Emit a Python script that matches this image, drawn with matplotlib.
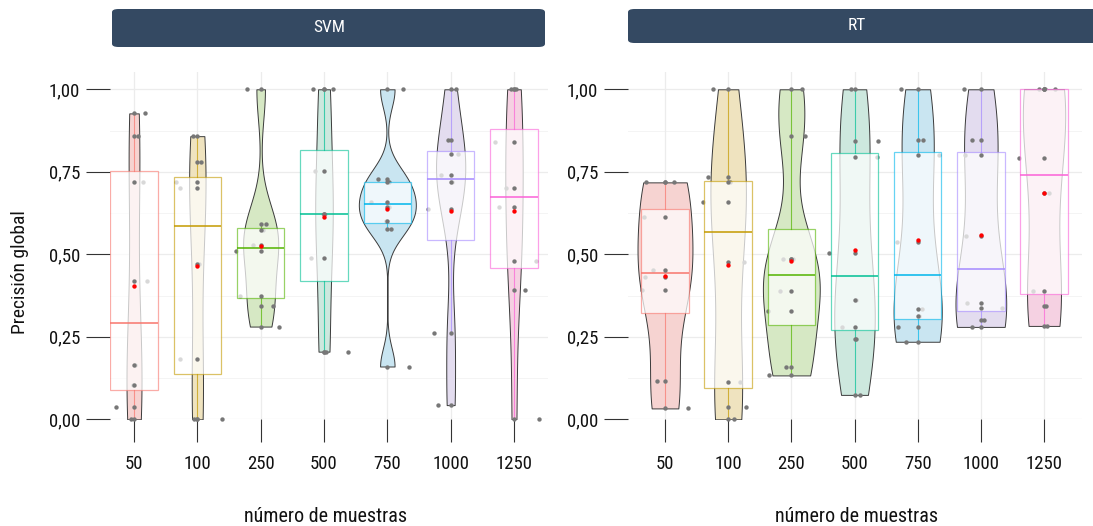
import numpy as np
import matplotlib
matplotlib.use("Agg")
import matplotlib.pyplot as plt
from matplotlib import cbook, mlab, font_manager
from matplotlib.patches import FancyBboxPatch

# ---------------- data ----------------
categories = ["50", "100", "250", "500", "750", "1000", "1250"]
panels = ["SVM", "RT"]

svm_values = [
    [0.927, 0.858, 0.719, 0.42, 0.164, 0.104, 0.038, 0.0],
    [0.858, 0.779, 0.719, 0.702, 0.471, 0.183, 0.0, 0.0],
    [1.0, 0.591, 0.574, 0.528, 0.511, 0.374, 0.343, 0.281],
    [1.0, 1.0, 0.753, 0.621, 0.621, 0.49, 0.205, 0.205],
    [1.0, 0.728, 0.718, 0.658, 0.644, 0.601, 0.578, 0.16],
    [1.0, 0.846, 0.803, 0.74, 0.719, 0.636, 0.263, 0.043],
    [1.0, 1.0, 0.839, 0.702, 0.644, 0.48, 0.391, 0.0],
]
svm_jitter = [
    [0.17, 0.06, 0.14, 0.2, 0.02, -0.02, -0.29, -0.04],
    [-0.07, 0.05, -0.33, -0.28, 0.02, -0.28, -0.06, 0.39],
    [-0.22, 0.09, 0.03, -0.12, -0.39, -0.33, 0.19, 0.29],
    [-0.18, 0.15, -0.14, 0.01, -0.02, -0.2, 0.03, 0.38],
    [0.24, -0.15, 0.02, -0.25, 0.03, -0.02, 0.06, 0.35],
    [0.09, -0.04, 0.12, -0.16, 0.02, -0.36, -0.26, -0.2],
    [-0.05, 0.03, -0.3, -0.12, -0.24, 0.34, 0.17, 0.39],
]
rt_values = [
    [0.718, 0.718, 0.612, 0.452, 0.432, 0.392, 0.116, 0.033],
    [1.0, 0.735, 0.718, 0.66, 0.478, 0.114, 0.038, 0.0],
    [1.0, 0.857, 0.485, 0.485, 0.39, 0.327, 0.16, 0.133],
    [1.0, 0.843, 0.796, 0.505, 0.362, 0.281, 0.242, 0.074],
    [1.0, 0.845, 0.80, 0.538, 0.335, 0.313, 0.28, 0.235],
    [1.0, 0.845, 0.80, 0.556, 0.352, 0.336, 0.301, 0.28],
    [1.0, 1.0, 1.0, 0.793, 0.685, 0.39, 0.343, 0.283],
]
rt_jitter = [
    [-0.3, 0.15, -0.33, -0.19, -0.32, -0.36, -0.12, 0.37],
    [-0.24, -0.32, 0.03, -0.4, 0.25, 0.19, 0.29, 0.1],
    [0.17, 0.22, -0.13, 0.02, -0.18, -0.37, -0.08, -0.35],
    [-0.05, 0.37, 0.35, -0.41, 0.02, -0.2, 0.03, 0.09],
    [-0.26, 0.08, 0.33, -0.33, 0.07, 0.02, -0.31, -0.18],
    [-0.26, -0.14, -0.25, -0.23, -0.22, 0.34, 0.05, -0.14],
    [-0.08, 0.17, 0.02, -0.4, 0.08, -0.17, 0.03, 0.05],
]
y_ticks = [0.0, 0.25, 0.5, 0.75, 1.0]
y_ticklabels = ["0,00", "0,25", "0,50", "0,75", "1,00"]

# ---------------- style ----------------
palette = ["#F8766D", "#C49A00", "#53B400", "#00C094", "#00B6EB", "#A58AFF", "#FB61D7"]
violin_fill = ["#F6D3D1", "#EFE3BF", "#D6E8C4", "#CDE8DE", "#C9E5F1", "#E3DCEF", "#F5D1E2"]
strip_color = "#344962"
point_gray = "#777777"
W, H = 1093, 526

names = {f.name for f in font_manager.fontManager.ttflist}
font = "Roboto"
for cand in ["Roboto Condensed", "Liberation Sans Narrow", "Roboto"]:
    if cand in names:
        font = cand
        break
plt.rcParams["font.family"] = [font, "DejaVu Sans"]
plt.rcParams["axes.unicode_minus"] = False


def nrd0(kde):
    d = np.asarray(kde.dataset).ravel()
    sd = np.std(d, ddof=1)
    q75, q25 = np.percentile(d, [75, 25])
    lo = min(sd, (q75 - q25) / 1.34)
    if lo <= 0:
        lo = sd if sd > 0 else 0.05
    bw = 0.9 * lo * len(d) ** (-0.2)
    return bw / sd


def kde_method(X, coords):
    kde = mlab.GaussianKDE(X, bw_method=nrd0)
    return kde.evaluate(coords)


fig = plt.figure(figsize=(W / 100, H / 100), dpi=100)
fig.patch.set_facecolor("white")

y_top_px, y_bot_px = 72, 419.3
ax_h = (y_bot_px - y_top_px) / H
ax_b = 1 - y_bot_px / H
axL = fig.add_axes([110 / W, ax_b, 438 / W, ax_h])
axR = fig.add_axes([628 / W, ax_b, 454 / W, ax_h])
xlims = [(1 - 24 / 63.3, 7 + 34 / 63.3), (1 - 37 / 63.2, 7 + 38 / 63.2)]

positions = np.arange(1, len(categories) + 1)

for k, (ax, vals, jit) in enumerate([(axL, svm_values, svm_jitter), (axR, rt_values, rt_jitter)]):
    ax.set_facecolor("white")
    ax.set_xlim(*xlims[k])
    ax.set_ylim(0, (y_bot_px - y_top_px) / 330)
    for s in ax.spines.values():
        s.set_visible(False)
    # grid
    for yv in np.arange(0.125, 1.05, 0.25):
        ax.axhline(yv, color="#f4f4f4", lw=0.7, zorder=0)
    for yv in y_ticks:
        ax.axhline(yv, color="#ececec", lw=0.9, zorder=0)
    for xv in positions:
        ax.axvline(xv, color="#ececec", lw=0.9, zorder=0)

    # violins (area scaled per panel)
    vpstats = cbook.violin_stats([np.array(v) for v in vals], kde_method, points=120)
    maxd = np.array([s["vals"].max() for s in vpstats])
    widths = 0.9 * maxd / maxd.max()
    parts = ax.violin(vpstats, positions=positions, widths=widths,
                      showmeans=False, showextrema=False, showmedians=False)
    for i, body in enumerate(parts["bodies"]):
        body.set_alpha(None)
        body.set_facecolor(violin_fill[i])
        body.set_edgecolor("#3a3a3a")
        body.set_linewidth(0.7)
        body.set_zorder(1)

    # jittered copies (below the box)
    for i, (v, j) in enumerate(zip(vals, jit)):
        ax.scatter(positions[i] + np.array(j), v, s=10, color=point_gray,
                   linewidths=0, zorder=2, clip_on=False)

    # boxplots
    bp = ax.boxplot(vals, positions=positions, widths=0.75, whis=1.5,
                    patch_artist=True, showfliers=False, showcaps=False,
                    manage_ticks=False)
    for i in range(len(vals)):
        c = palette[i]
        bp["boxes"][i].set_facecolor((1, 1, 1, 0.72))
        bp["boxes"][i].set_edgecolor(matplotlib.colors.to_rgba(c, 0.6))
        bp["boxes"][i].set_linewidth(0.9)
        bp["boxes"][i].set_zorder(3)
        bp["medians"][i].set_color(matplotlib.colors.to_rgba(c, 0.85))
        bp["medians"][i].set_linewidth(1.3)
        bp["medians"][i].set_zorder(3.5)
        for w in bp["whiskers"][2 * i:2 * i + 2]:
            w.set_color(matplotlib.colors.to_rgba(c, 0.7))
            w.set_linewidth(0.8)
            w.set_zorder(3)

    # raw points and means
    for i, v in enumerate(vals):
        ax.scatter(np.full(len(v), positions[i]), v, s=10, color=point_gray,
                   linewidths=0, zorder=4, clip_on=False)
        ax.scatter([positions[i]], [np.mean(v)], s=10, color="red",
                   linewidths=0, zorder=5, clip_on=False)

    ax.set_xticks(positions)
    ax.set_xticklabels(categories)
    ax.set_yticks(y_ticks)
    ax.set_yticklabels(y_ticklabels)
    ax.tick_params(axis="y", length=17.3, width=0.8, color="#333333", pad=4.3,
                   labelsize=13.5, labelcolor="#111111")
    ax.tick_params(axis="x", length=16.6, width=0.8, color="#333333", pad=9,
                   labelsize=13.5, labelcolor="#111111")

# strips
for (x0, x1, y0, y1, label, tx, ty) in [(112, 545, 9, 47, panels[0], 329, 28),
                                         (628, 1110, 9, 43, panels[1], 857, 26)]:
    p = FancyBboxPatch((x0 / W, 1 - y1 / H), (x1 - x0) / W, (y1 - y0) / H,
                       boxstyle="round,pad=0,rounding_size=0.006",
                       transform=fig.transFigure, facecolor=strip_color,
                       edgecolor="none", zorder=5)
    fig.patches.append(p)
    fig.text(tx / W, 1 - ty / H, label, color="white", fontsize=12.5,
             ha="center", va="center", zorder=10)

# axis titles
fig.text(20 / W, 1 - 272 / H, "Precisión global", rotation=90, fontsize=14,
         ha="center", va="center", color="#111111")
fig.text(326 / W, 1 - 516 / H, "número de muestras", fontsize=14.5,
         ha="center", va="center", color="#111111")
fig.text(857 / W, 1 - 516 / H, "número de muestras", fontsize=14.5,
         ha="center", va="center", color="#111111")

fig.savefig("out.png", dpi=100, facecolor="white")
